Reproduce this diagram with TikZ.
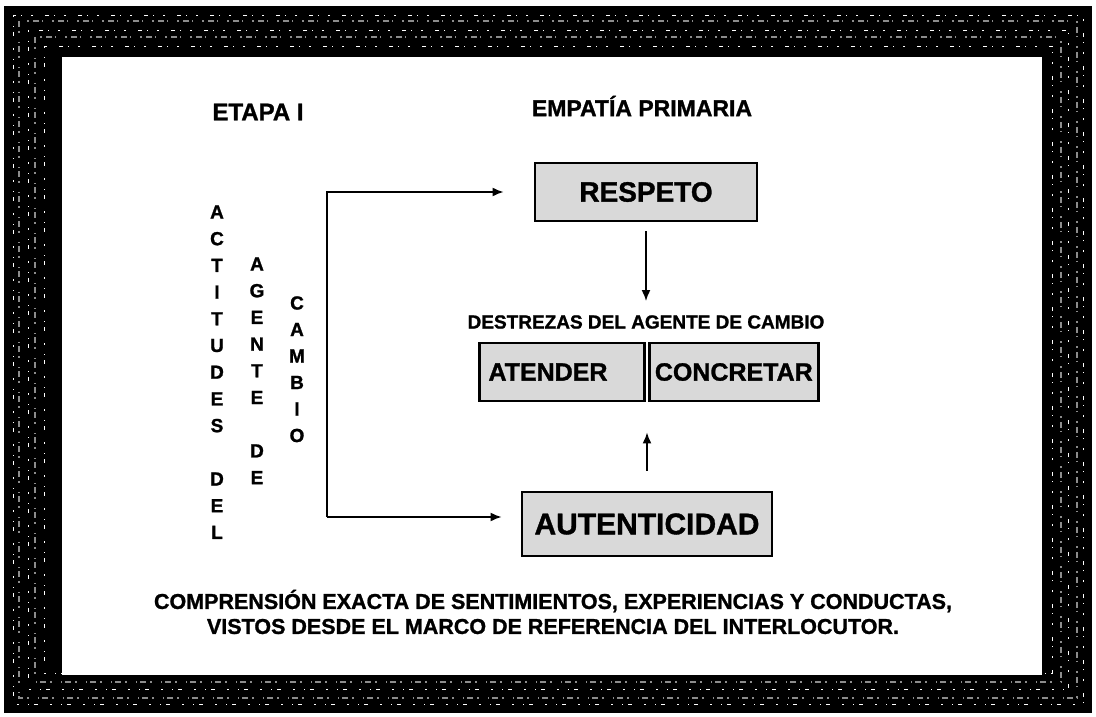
\documentclass[tikz,border=0pt]{standalone}
\usepackage{fontspec}
\setmainfont{Liberation Sans}[BoldFeatures={FakeBold=1.2}]
\usetikzlibrary{arrows.meta,positioning,calc}

\begin{document}
\begin{tikzpicture}[x=1pt,y=-1pt,
  box/.style={draw=black, line width=2.8pt, fill=black!15, inner sep=0pt, minimum height=58pt,
    font=\fontsize{25}{27}\selectfont\bfseries},
  ttl/.style={font=\fontsize{24}{26}\selectfont\bfseries, inner sep=0pt},
  txt/.style={font=\fontsize{19}{25}\selectfont\bfseries, inner sep=0pt, align=center},
  vlet/.style={font=\fontsize{19}{19}\selectfont\bfseries, inner sep=0pt},
  arr/.style={-{Latex[length=11pt,width=9pt]}, line width=1.8pt},
  speck/.style={white, line width=0.9pt, dash pattern=on 2pt off 9pt on 1pt off 5pt on 4pt off 12pt},
  speckb/.style={black!45, line width=1.4pt, dash pattern=on 6pt off 4pt on 2pt off 9pt on 1pt off 3pt},
]
\useasboundingbox (0,0) rectangle (1096,717);
% frame
\fill[black] (4,6) rectangle (1092,713);
\foreach \d in {9,24,40} \draw[speck] (4+\d,6+\d) rectangle (1092-\d,713-\d);
\foreach \d in {15,31} \draw[speckb] (4+\d,6+\d) rectangle (1092-\d,713-\d);
\fill[white] (62,57) rectangle (1042,675);

% titles
\node[ttl] (etapa) at (258,112) {ETAPA I};
\node[ttl, font=\fontsize{23}{25}\selectfont\bfseries] (empat) at (642,106) {EMPATÍA PRIMARIA};

% vertical words
\foreach \c [count=\i from 0] in {A,C,T,I,T,U,D,E,S,{},D,E,L}
  \node[vlet] (act\i) at (217,212+26.7*\i) {\c};
\foreach \c [count=\i from 0] in {A,G,E,N,T,E,{},D,E}
  \node[vlet] (age\i) at (257,264+26.7*\i) {\c};
\foreach \c [count=\i from 0] in {C,A,M,B,I,O}
  \node[vlet] (cam\i) at (297,303+26.5*\i) {\c};

% boxes
\node[box, minimum width=222pt, font=\fontsize{28}{30}\selectfont\bfseries] (resp) at (646,192) {RESPETO};
\node[txt] (dest) at (646,322) {DESTREZAS DEL AGENTE DE CAMBIO};
\node[box, text width=147pt, inner xsep=9pt, align=left] (atd) at (562,372) {ATENDER};
\node[box, minimum width=169pt, right=2pt of atd] (conc) {CONCRETAR};
\node[box, minimum width=250pt, minimum height=64pt, font=\fontsize{30}{32}\selectfont\bfseries] (aut) at (647,524) {AUTENTICIDAD};

% connectors
\coordinate (brt) at (327,192);
\coordinate (brb) at (327,517);
\draw[arr, shorten >=30pt] (brb) -- (brt) -- (brt -| resp.west);
\draw[arr, shorten >=19pt] (brb) -- (brb -| aut.west);
\draw[arr, shorten <=9pt, shorten >=14pt] (resp) -- (dest);
\draw[arr, shorten <=20pt, shorten >=30pt] (aut.north) -- (aut.north |- atd.south);

\node[txt, font=\fontsize{21.5}{25}\selectfont\bfseries] (compr) at (553,612) {COMPRENSIÓN EXACTA DE SENTIMIENTOS, EXPERIENCIAS Y CONDUCTAS,\\VISTOS DESDE EL MARCO DE REFERENCIA DEL INTERLOCUTOR.};
\end{tikzpicture}
\end{document}
